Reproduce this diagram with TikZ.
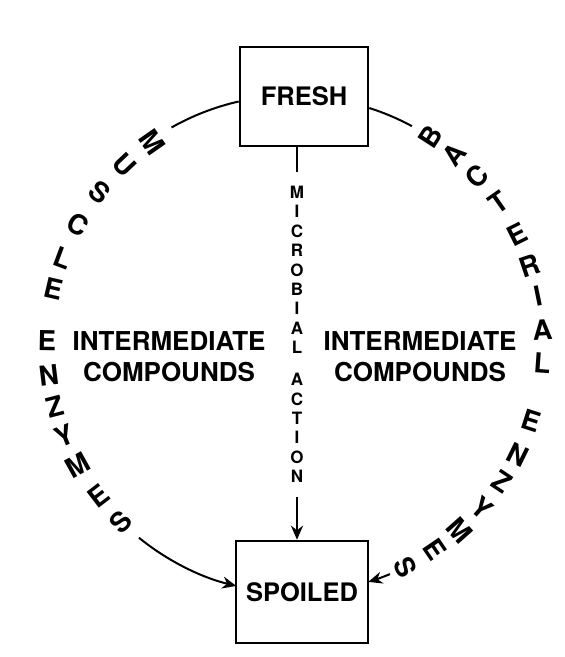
\documentclass[tikz,border=0pt]{standalone}
\usepackage{fontspec}
\setmainfont{TeX Gyre Heros}
\usetikzlibrary{arrows.meta,positioning}

\begin{document}
\begin{tikzpicture}[>={Stealth[length=14pt,width=12pt]}, x=1pt, y=1pt,
  stage/.style={draw,line width=2.6pt,minimum width=128pt,minimum height=99pt,font=\fontsize{25.5}{30}\selectfont\bfseries},
  route/.style={line width=2pt},
  arcletter/.style={font=\fontsize{27.5}{30}\selectfont\bfseries,inner sep=0pt},
  stack/.style={font=\fontsize{17}{19.4}\selectfont\bfseries,align=center,inner sep=0pt},
  inter/.style={font=\fontsize{26}{31}\selectfont\bfseries,align=center}]
  \useasboundingbox (0,0) rectangle (565,657);
  \coordinate (hub) at (295,312);
  \node[stage] (fresh) at (304,560.5) {FRESH};
  \node[stage,minimum width=132pt,minimum height=102pt] (spoiled) at (302,65) {SPOILED};
  % muscle enzymes, left side
  \draw[route] ([yshift=-5pt]fresh.west) arc[start angle=102.8,end angle=119.5,radius=248];
  \foreach \a/\ch [count=\i] in {125/M,133.5/U,142/S,151/C,159.5/L,167/E,179/E,187/N,194.5/Z,201.5/Y,209/M,217.5/E,225.5/S}
    \node[arcletter,rotate=\a-180] (m\i) at ([shift={(\a:248)}]hub) {\ch};
  \coordinate (mtail) at ([shift={(231:248)}]hub);
  \draw[route,->] (mtail) arc[start angle=231,end angle=256.3,radius=248];
  % bacterial enzymes, right side
  \draw[route] ([yshift=-11.5pt]fresh.east) arc[start angle=72.3,end angle=61.6,radius=248];
  \foreach \a/\ch [count=\i] in {57/B,50.2/A,42.9/C,35/T,26.5/E,18.6/R,11.5/I,3.4/A,-4.2/L,-17.8/E,-26.2/N,-33.6/Z,-41.2/Y,-48.4/M,-55.6/E,-63.6/S}
    \node[arcletter,rotate=\a] (b\i) at ([shift={(\a:248)}]hub) {\ch};
  \coordinate (btail) at ([shift={(-67.5:248)}]hub);
  \draw[route,->] (btail) arc[start angle=-67.5,end angle=-72.8,radius=248];
  % microbial action, middle
  \coordinate (mtop) at (297,485); \coordinate (mbot) at (297,160);
  \draw[line width=2.8pt] (fresh.south -| mtop) -- (mtop);
  \node[stack] (microbial) at (297,387) {M\\I\\C\\R\\O\\B\\I\\A\\L};
  \node[stack] (action) at (297,229) {A\\C\\T\\I\\O\\N};
  \draw[->,line width=2.4pt] (mbot) -- (mbot |- spoiled.north);
  \node[inter] (interl) at (169,300.5) {INTERMEDIATE\\COMPOUNDS};
  \node[inter] (interr) at (420,300.5) {INTERMEDIATE\\COMPOUNDS};
\end{tikzpicture}
\end{document}
